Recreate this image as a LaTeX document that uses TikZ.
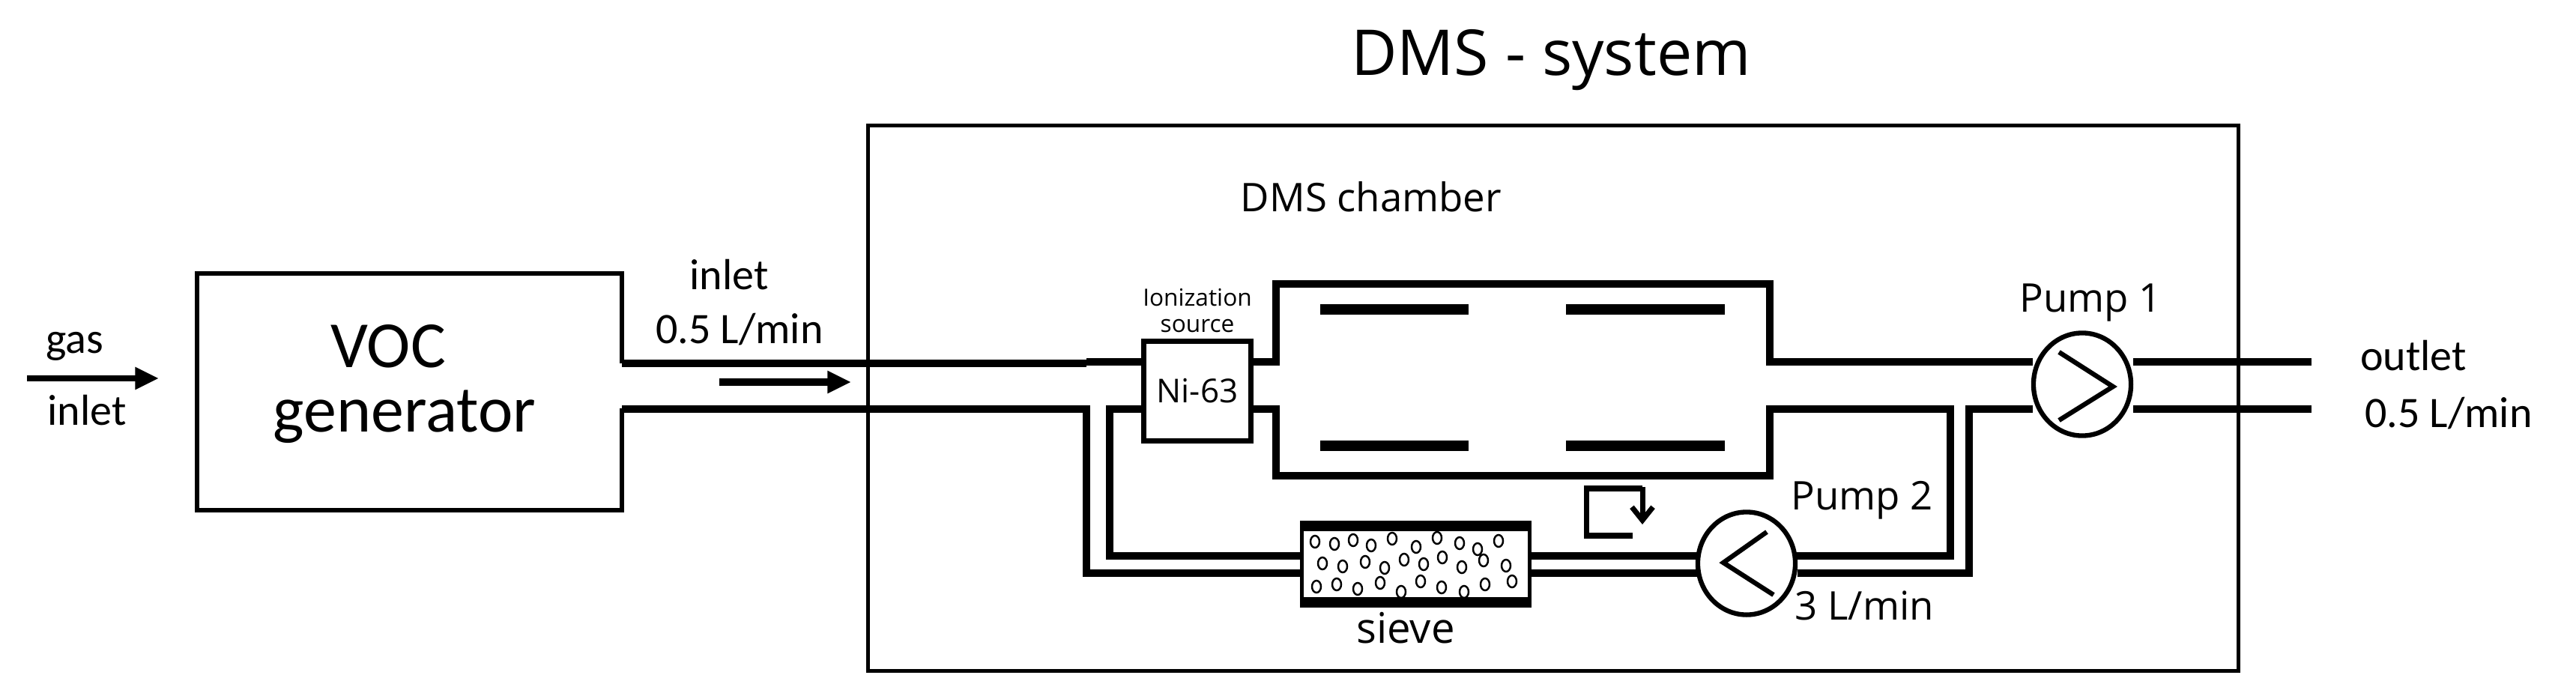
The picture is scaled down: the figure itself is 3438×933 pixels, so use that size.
\documentclass[tikz,border=0pt]{standalone}
\usepackage{fontspec}
\setmainfont{Carlito}
\newfontfamily\osans{Open Sans}
\usetikzlibrary{positioning,arrows.meta}

\tikzset{
  tube/.style={line width=2.6pt},
  wall/.style={line width=1.5pt},
  pump/.style={ellipse,draw,line width=1.8pt,fill=white,minimum width=37pt,minimum height=39pt,inner sep=0pt},
  plate/.style={line width=4pt},
  lbl/.style={font=\fontsize{16.5}{18}\selectfont,inner sep=0pt},
  olbl/.style={font=\osans\fontsize{15}{17}\selectfont,inner sep=0pt},
}
\usetikzlibrary{shapes.geometric}

\begin{document}
\begin{tikzpicture}[x=0.01cm,y=-0.01cm]
  \useasboundingbox (0,0) rectangle (3438,933);

  % outer system box and VOC generator
  \node[draw,wall,minimum width=1829*0.01cm,minimum height=728*0.01cm,anchor=north west] (system) at (1156,165) {};
  \node[font=\osans\fontsize{24}{26}\selectfont,inner sep=0pt] (systitle) at (2070,80) {DMS - system};
  \node[olbl] (chtitle) at (1830,263) {DMS chamber};

  \draw[wall] (830,485) -- (830,365) -- (263,365) -- (263,681) -- (830,681) -- (830,545);
  \node[font=\fontsize{25}{27}\selectfont,inner sep=0pt] (voc) at (518,462) {VOC};
  \node[font=\fontsize{25}{27}\selectfont,inner sep=0pt] (gen) at (540,556) {generator};

  % gas inlet
  \coordinate (gasA) at (36,505);
  \coordinate (gasB) at (212,505);
  \draw[-{Triangle[length=9pt,width=8pt]},line width=2.3pt] (gasA) -- (gasB);
  \node[lbl] (gas) at (100,462) {gas};
  \node[lbl] (gasin) at (116,548) {inlet};

  % inlet tube
  \node[lbl] (inl) at (973,367) {inlet};
  \node[lbl] (inlrate) at (987,440) {0.5 L/min};
  \coordinate (flowA) at (960,510);
  \coordinate (flowB) at (1136,510);
  \draw[-{Triangle[length=9pt,width=8pt]},line width=2.6pt] (flowA) -- (flowB);

  % ionization source
  \node[draw,line width=2pt,minimum width=143*0.01cm,minimum height=133*0.01cm,anchor=north west,
        font=\osans\fontsize{12.5}{14}\selectfont] (ni) at (1523,452) {Ni-63};
  \node[font=\osans\fontsize{9}{10}\selectfont,align=center,anchor=south,inner sep=0pt] (ionlbl) at ([yshift=2pt]ni.north) {Ionization\\source};

  % chamber with plates
  \draw[tube] (1450,483) -- (ni.north west |- 0,483);
  \draw[tube] (ni.east |- 0,483) -- (1703,483) -- (1703,379) -- (2362,379) -- (2362,483) -- (2713,483);
  \draw[tube] (ni.east |- 0,546) -- (1703,546) -- (1703,635) -- (2362,635) -- (2362,546) -- (2603,546) -- (2603,742) -- (2392,742);
  \foreach \x/\X in {1762/1960,2090/2302}{
    \draw[plate] (\x,413) -- (\X,413);
    \draw[plate] (\x,595) -- (\X,595);
  }

  % inlet tube walls
  \draw[tube] (830,485) -- (1450,485);
  \draw[tube] (830,546) -- (1450,546) -- (1450,765) -- (1735,765);
  \draw[tube] (ni.west |- 0,546) -- (1481,546) -- (1481,742) -- (1735,742);

  % sieve
  \node[draw,line width=1.5pt,minimum width=304*0.01cm,minimum height=97*0.01cm,anchor=north west] (sieve) at (1735,702) {};
  \draw[line width=4pt] (sieve.north west) -- (sieve.north east) (sieve.south west) -- (sieve.south east);
  \foreach \px/\py in {1755/723,1781/726,1806/721,1830/728,1858/719,1890/730,1918/718,1948/725,1972/733,2000/722,
                       1765/752,1792/756,1822/750,1848/758,1874/747,1900/753,1925/744,1951/757,1980/748,2010/755,
                       1757/783,1784/780,1812/786,1842/778,1870/790,1896/776,1924/784,1954/790,1982/780,2018/776}
    \draw[line width=0.7pt] (\px,\py) ellipse (6 and 8);
  \node[olbl,font=\osans\fontsize{16}{18}\selectfont] (sievelbl) at (1876,838) {sieve};
  \draw[tube] (sieve.east |- 0,742) -- (2270,742);
  \draw[tube] (sieve.east |- 0,765) -- (2270,765);

  % pump 2 and recirculation sign
  \node[pump] (p2) at (2331,752) {};
  \draw[line width=1.8pt] (2358,710) -- (2300,751) -- (2367,794);
  \draw[tube] (p2.east |- 0,765) -- (2628,765) -- (2628,546) -- (2713,546);
  \node[olbl,anchor=west] (p2lbl) at (2390,668) {Pump 2};
  \node[olbl,anchor=west] (p2rate) at (2395,808) {3 L/min};
  \draw[line width=2pt] (2179,715) -- (2117,715) -- (2117,652) -- (2192,652);
  \coordinate (recA) at (2192,650);
  \coordinate (recB) at (2192,700);
  \draw[-{Straight Barb[length=5pt,width=8pt]},line width=2pt] (recA) -- (recB);

  % pump 1 and outlet
  \node[pump] (p1) at (2779,513) {};
  \draw[line width=1.8pt] (2748,470) -- (2820,516) -- (2748,561);
  \draw[tube] (p1.east |- 0,483) -- (3085,483);
  \draw[tube] (p1.east |- 0,546) -- (3085,546);
  \node[olbl] (p1lbl) at (2790,404) {Pump 1};
  \node[lbl] (outl) at (3221,475) {outlet};
  \node[lbl] (outrate) at (3268,552) {0.5 L/min};
\end{tikzpicture}
\end{document}
